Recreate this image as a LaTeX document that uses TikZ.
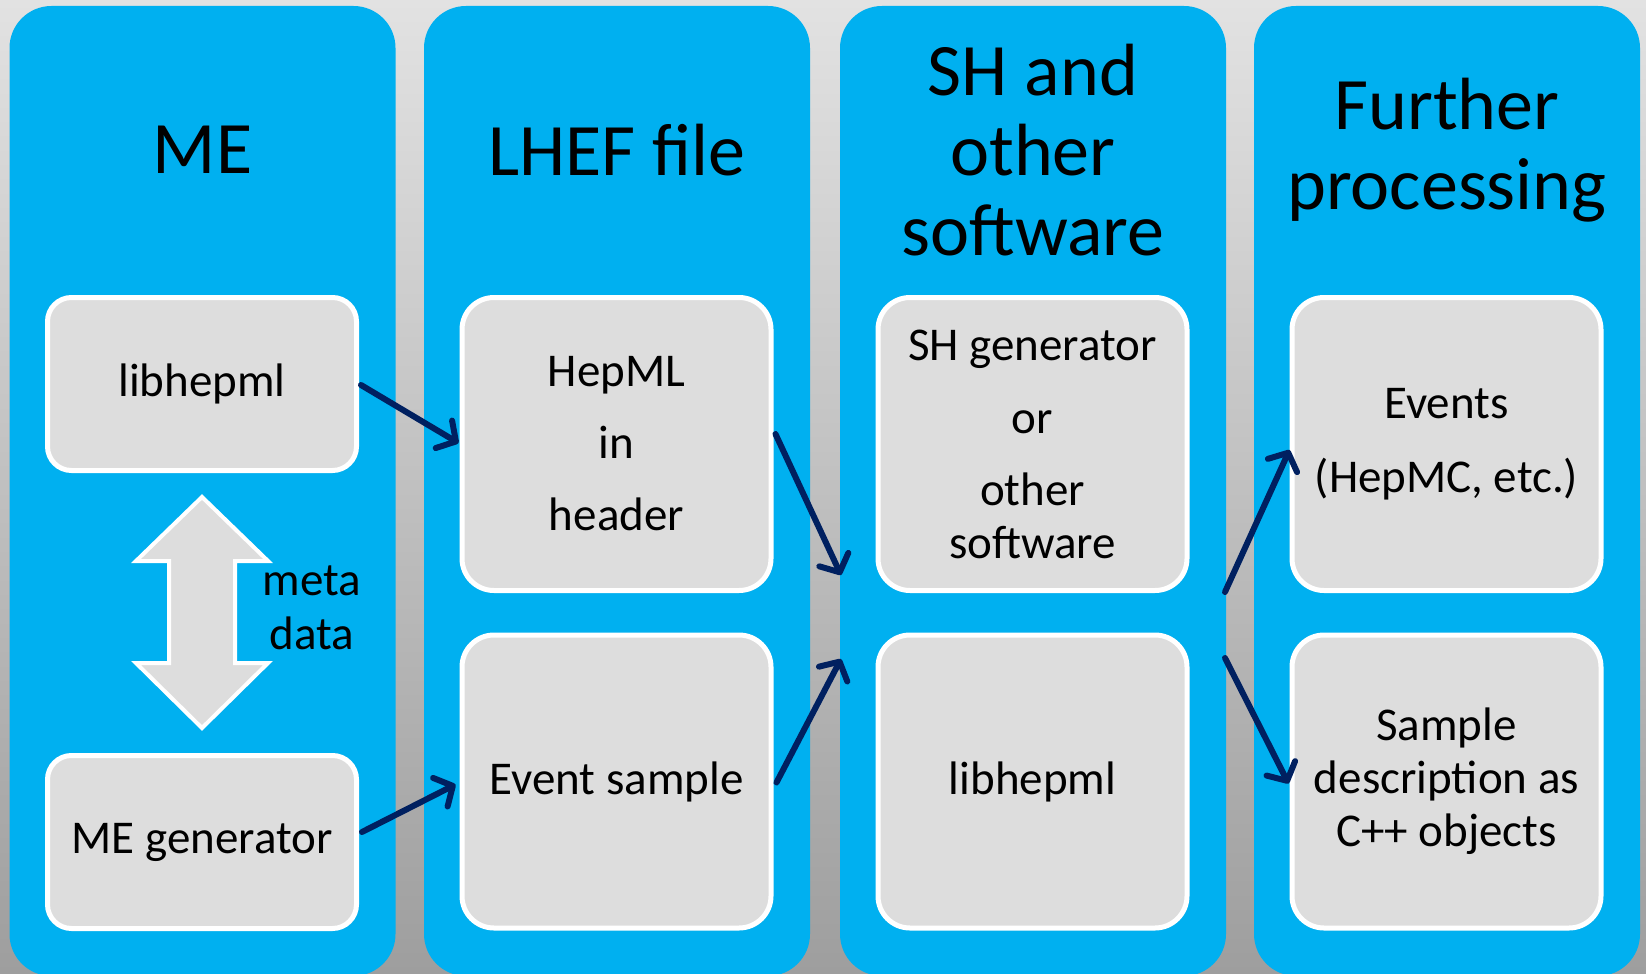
\documentclass[tikz,border=0pt]{standalone}
\usepackage{fontspec}
\setmainfont{Carlito}
\usetikzlibrary{arrows.meta,calc}
\definecolor{colblue}{HTML}{00B0F0}
\definecolor{boxgray}{HTML}{DDDDDD}
\definecolor{arrowblue}{HTML}{002060}
\definecolor{bgtop}{HTML}{E2E2E2}
\definecolor{bgbot}{HTML}{9E9E9E}
\begin{document}
\begin{tikzpicture}[x=1pt,y=-1pt,
  column/.style={fill=colblue, rounded corners=42pt, inner sep=0pt, minimum width=386pt, minimum height=970pt},
  title/.style={align=center, inner sep=0pt, font=\fontsize{74}{80}\selectfont},
  box/.style={fill=boxgray, draw=white, line width=5pt, rounded corners=24pt, inner sep=0pt, align=center, minimum width=309pt, font=\fontsize{47}{53}\selectfont},
  shortbox/.style={box, minimum height=173pt},
  tallbox/.style={box, minimum height=293pt, rounded corners=32pt},
  conn/.style={draw=arrowblue, line width=6pt, line cap=round, -{Straight Barb[length=14pt,width=32pt,round]}}
]
\useasboundingbox (0,0) rectangle (1646,974);
\shade[top color=bgtop, bottom color=bgbot] (0,0) rectangle (1646,974);

% columns
\node[column] (col1) at (202.5,491) {};
\node[column] (col2) at (617,491) {};
\node[column] (col3) at (1033,491) {};
\node[column] (col4) at (1447,491) {};

% titles
\node[title] (t1) at (202.5,150) {ME};
\node[title] (t2) at (617,150) {LHEF file};
\node[title] (t3) at (1033,150) {SH and\\other\\software};
\node[title] (t4) at (1447,150) {Further\\processing};

% boxes
\node[shortbox] (lib1) at (202,384) {libhepml};
\node[shortbox] (megen) at (202,842) {ME generator};
\node[tallbox] (hepml) at (616.5,444) {HepML\\[19pt]in\\[19pt]header};
\node[tallbox] (evs) at (616.5,781.5) {Event sample};
\node[tallbox] (shgen) at (1032.5,444) {SH generator\\[20pt]or\\[19pt]other\\software};
\node[tallbox] (lib2) at (1032.5,781.5) {libhepml};
\node[tallbox] (events) at (1446.5,444) {Events\\[21pt](HepMC, etc.)};
\node[tallbox] (desc) at (1446.5,781.5) {Sample\\description as\\C++ objects};

% meta data double arrow
\draw[fill=boxgray, draw=white, line width=4pt, line join=miter]
  (202,497) -- (268,561) -- (235,561) -- (235,663) -- (268,663) -- (202,728)
  -- (136,663) -- (169,663) -- (169,561) -- (136,561) -- cycle;
\node[align=center, inner sep=0pt, font=\fontsize{47}{54}\selectfont] (meta) at (312,608) {meta\\data};

% free ends on column 3
\coordinate (c3a) at (841,575);
\coordinate (c3b) at (841,659);
\coordinate (c3c) at (1225,592);
\coordinate (c3d) at (1225,658);

% connectors
\draw[conn] ([xshift=2pt,yshift=-1pt]lib1.east) -- ([xshift=-1pt,yshift=1pt]hepml.west);
\draw[conn] ([xshift=3pt,yshift=10pt]megen.east) -- ([xshift=-4pt,yshift=-3pt]evs.west);
\draw[conn] ([xshift=2pt,yshift=10pt]hepml.east) -- (c3a);
\draw[conn] ([xshift=3pt,yshift=-1pt]evs.east) -- (c3b);
\draw[conn] (c3c) -- ([yshift=-6pt]events.west);
\draw[conn] (c3d) -- ([xshift=-1pt,yshift=-2pt]desc.west);
\end{tikzpicture}
\end{document}
